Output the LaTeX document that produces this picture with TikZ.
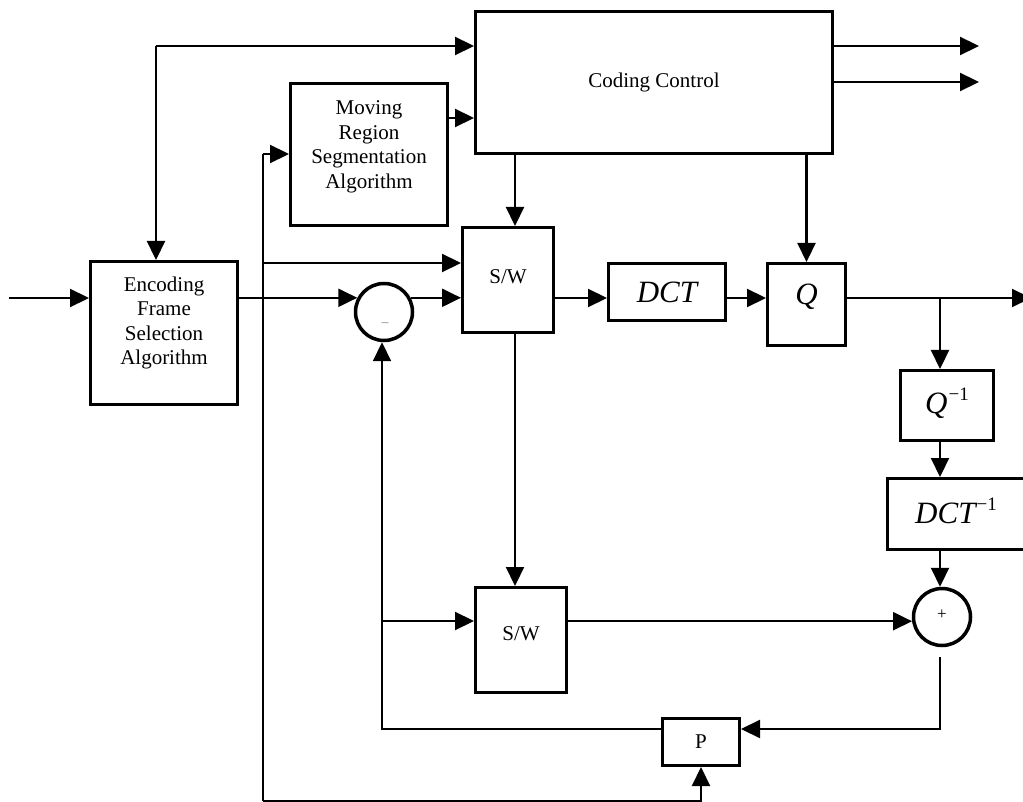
\documentclass[tikz,border=0pt]{standalone}
\usepackage{fontspec}
\setmainfont{Liberation Serif}
\usetikzlibrary{arrows.meta}
\newcommand{\invsup}{\kern1pt\raisebox{0.42em}{\fontsize{19}{19}\selectfont\upshape −1}}
\begin{document}
\begin{tikzpicture}[x=1pt,y=-1pt,
  box/.style={draw, line width=3pt, inner sep=0pt, align=center, font=\fontsize{21}{24.5}\selectfont},
  txt/.style={inner sep=0pt, align=center, font=\fontsize{21}{24.5}\selectfont},
  mth/.style={font=\fontsize{31}{31}\selectfont\itshape},
  sumc/.style={draw, circle, line width=3.5pt, minimum size=57pt, inner sep=0pt},
  conn/.style={line width=2.2pt, -{Triangle[length=19pt,width=18pt]}},
  wire/.style={line width=2.2pt}]
\useasboundingbox (0,0) rectangle (1023,802);

% blocks
\node[box, minimum width=147pt, minimum height=143pt] (enc) at (164,333) {};
\node[txt] (enctxt) at (164,323) {Encoding\\Frame\\Selection\\Algorithm};
\node[box, minimum width=157pt, minimum height=142pt] (mr) at (369,154.5) {};
\node[txt] (mrtxt) at (369,147) {Moving\\Region\\Segmentation\\Algorithm};
\node[box, minimum width=357pt, minimum height=142pt] (cc) at (654,82.5) {Coding Control};
\node[box, minimum width=91pt, minimum height=105pt] (sw1) at (508,280) {};
\node[txt] (sw1txt) at (508,277) {S/W};
\node[box, minimum width=91pt, minimum height=105pt] (sw2) at (521,640) {};
\node[txt] (sw2txt) at (521,634) {S/W};
\node[box, mth, minimum width=117pt, minimum height=57pt] (dct) at (667,292) {DCT};
\node[box, minimum width=78pt, minimum height=82pt] (q) at (806.5,304.5) {};
\node[mth, inner sep=0pt] (qtxt) at (806.5,297) {Q};
\node[box, minimum width=93pt, minimum height=70pt] (qi) at (947,405.5) {};
\node[mth, inner sep=0pt] (qitxt) at (947,403) {Q\invsup};
\node[box, minimum width=141pt, minimum height=71pt] (dcti) at (958,514) {};
\node[mth, inner sep=0pt] (dctitxt) at (956,511) {DCT\invsup};
\node[box, minimum width=77pt, minimum height=47pt] (p) at (701,742) {P};
\node[sumc] (minus) at (384,312) {};
\node[inner sep=0pt, text=gray, font=\fontsize{14}{14}\selectfont] (minustxt) at (385,325) {–};
\node[sumc] (plus) at (942,617) {};
\node[inner sep=0pt, font=\fontsize{17}{17}\selectfont] (plustxt) at (942,615) {+};

% coordinates
\coordinate (in) at (9,298);
\coordinate (encout) at (236,298);
\coordinate (fb) at (156,46);
\coordinate (vtop) at (263,154);
\coordinate (vbr) at (263,263);
\coordinate (vbot) at (263,801);
\coordinate (col) at (940,298);
\coordinate (pb) at (940,657);
\coordinate (pr) at (940,729);
\coordinate (fl) at (382,729);
\coordinate (fbr) at (382,621);
\coordinate (out1) at (979,46);
\coordinate (out2) at (979,82);
\coordinate (out3) at (1031,298);

% connectors
\draw[conn] (in) -- (in -| enc.west);
\draw[conn] (encout |- minus.152) -- (minus.152);
\draw[conn] (minus.28) -- (minus.28 -| sw1.west);
\draw[conn] (fb) -- (fb |- enc.north);
\draw[conn] (fb) -- (fb -| cc.west);
\draw[conn] ([yshift=36.5pt]mr.east) -- ([yshift=36.5pt]mr.east -| cc.west);
\draw[conn] (vtop) -- (vtop -| mr.west);
\draw[wire] (vtop) -- (vbot);
\draw[conn] (vbot) -| (p.south);
\draw[conn] (vbr) -- (vbr -| sw1.west);
\draw[conn] ([xshift=7pt]sw1.north |- cc.south) -- ([xshift=7pt]sw1.north);
\draw[conn] (q.north |- cc.south) -- (q.north);
\draw[conn] (cc.east |- out1) -- (out1);
\draw[conn] (cc.east |- out2) -- (out2);
\draw[conn] (sw1.east |- col) -- (dct.west |- col);
\draw[conn] (dct.east |- col) -- (q.west |- col);
\draw[conn] (q.east |- col) -- (out3);
\draw[conn] (col) -- (col |- qi.north);
\draw[conn] (col |- qi.south) -- (col |- dcti.north);
\draw[conn] (col |- dcti.south) -- (col |- plus.north);
\draw[conn] ([xshift=7pt]sw1.south) -- ([xshift=7pt]sw1.south |- sw2.north);
\draw[conn] (sw2.east |- plus.188) -- (plus.188);
\draw[conn] (pb) -- (pr) -- (pr -| p.east);
\draw[conn] (p.west |- fl) -- (fl) -- (fl |- minus.south);
\draw[conn] (fbr) -- (fbr -| sw2.west);
\end{tikzpicture}
\end{document}
